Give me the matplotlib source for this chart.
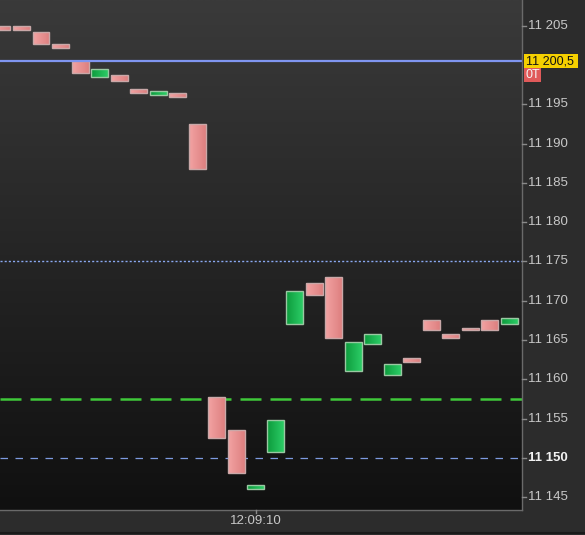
import numpy as np
import matplotlib.pyplot as plt
from matplotlib.colors import LinearSegmentedColormap
from matplotlib.patches import Rectangle

# candle data (open / close), one candle per slot
opens = [11205.0, 11205.0, 11204.25, 11202.75, 11200.5, 11198.5, 11198.75, 11197.0, 11196.25,
         11196.5, 11192.5, 11157.75, 11153.5, 11146.0, 11150.75, 11167.0, 11172.25, 11173.0,
         11161.0, 11164.5, 11160.5, 11162.75, 11167.5, 11165.75, 11166.5, 11167.5, 11167.0]
closes = [11204.5, 11204.5, 11202.75, 11202.25, 11199.0, 11199.5, 11198.0, 11196.5, 11196.75,
          11196.0, 11186.75, 11152.5, 11148.0, 11146.5, 11154.75, 11171.25, 11170.75, 11165.25,
          11164.75, 11165.75, 11162.0, 11162.25, 11166.25, 11165.25, 11166.25, 11166.25, 11167.75]

price_ticks = [11145, 11150, 11155, 11160, 11165, 11170, 11175, 11180, 11185, 11190, 11195, 11205]
last_price = 11200.5
last_label = "11 200,5"
qty_label = "0T"
time_tick = 13
time_label = "12:09:10"
level_dotted = 11175
level_green = 11157.5
level_blue = 11150

W, H = 585, 535
fig = plt.figure(figsize=(W / 100, H / 100), dpi=100)
fig.patch.set_facecolor('#2c2c2c')
plt.rcParams['font.family'] = ['Liberation Sans', 'DejaVu Sans']

ax = fig.add_axes([0, 25 / H, 522 / W, 510 / H])
x0, x1 = -0.10, 26.64
y0, y1 = 11143.35, 11208.3
ax.set_xlim(x0, x1)
ax.set_ylim(y0, y1)
ax.axis('off')

# background gradient
bg = LinearSegmentedColormap.from_list('bg', ['#101010', '#3a3a3a'])
grad = np.linspace(0, 1, 256).reshape(-1, 1)
ax.imshow(grad, extent=[x0, x1, y0, y1], origin='lower', aspect='auto', cmap=bg, zorder=0)

# level lines
ax.axhline(level_dotted, color='#8aa8f0', lw=1.0, ls=(0, (1.5, 1.5)), zorder=1)
ax.axhline(level_green, color='#3fc83a', lw=1.8, ls=(0, (8.4, 3.6)), zorder=1)
ax.axhline(level_blue, color='#7d9be0', lw=0.9, ls=(0, (6, 6)), zorder=1)

red_cm = LinearSegmentedColormap.from_list('r', ['#f2a3a3', '#de8080'])
green_cm = LinearSegmentedColormap.from_list('g', ['#0c9a3c', '#2ccd66'])
hgrad = np.linspace(0, 1, 64).reshape(1, -1)
width = 0.87
for i, (o, c) in enumerate(zip(opens, closes)):
    lo, hi = min(o, c), max(o, c)
    up = c > o
    rect = Rectangle((i - width / 2, lo), width, hi - lo,
                     facecolor='none', edgecolor='#9ac8a2' if up else '#c9a8a8', lw=1.0, zorder=3)
    ax.add_patch(rect)
    im = ax.imshow(hgrad, extent=[i - width / 2, i + width / 2, lo, hi], aspect='auto',
                   cmap=green_cm if up else red_cm, zorder=2)
    im.set_clip_path(rect)

ax.axhline(last_price, color='#7f95f0', lw=1.6, zorder=4)

# right price scale
fig.add_artist(plt.Line2D([521.5 / W, 521.5 / W], [25 / H, 1], color='#6a6a6a', lw=1))
def fy(p):
    return (25 + (p - y0) / (y1 - y0) * 510) / H
for p in price_ticks:
    s = f"{p:,}".replace(',', ' ')
    fig.add_artist(plt.Line2D([522 / W, 526 / W], [fy(p), fy(p)], color='#8a8a8a', lw=1))
    fig.text(528 / W, fy(p), s, color='#f2f2f2' if p == level_blue else '#c8c8c8', fontsize=9.5,
             fontweight='bold' if p == level_blue else 'normal', va='center', ha='left')

fig.patches.append(Rectangle((524 / W, 1 - 68 / H), 54 / W, 14 / H,
                             transform=fig.transFigure, facecolor='#f5d000', edgecolor='none'))
fig.text(525.5 / W, 1 - 61 / H, last_label, color='#111111', fontsize=9, va='center', ha='left')
fig.patches.append(Rectangle((524 / W, 1 - 82 / H), 17 / W, 14 / H,
                             transform=fig.transFigure, facecolor='#e05a5a', edgecolor='none'))
fig.text(525.5 / W, 1 - 75 / H, qty_label, color='#f4f4f4', fontsize=9, va='center', ha='left')

# bottom time scale
fig.add_artist(plt.Line2D([0, 522 / W], [25 / H, 25 / H], color='#6a6a6a', lw=1))
fig.add_artist(plt.Line2D([0, 1], [2.5 / H, 2.5 / H], color='#1a1a1a', lw=1.5))
tx = (time_tick - x0) / (x1 - x0) * 522 / W
fig.add_artist(plt.Line2D([tx, tx], [22 / H, 25 / H], color='#8a8a8a', lw=1))
fig.text(tx, 1 - 521 / H, time_label, color='#c8c8c8', fontsize=9.5, va='center', ha='center')

fig.savefig('out.png', dpi=100, facecolor=fig.get_facecolor())
